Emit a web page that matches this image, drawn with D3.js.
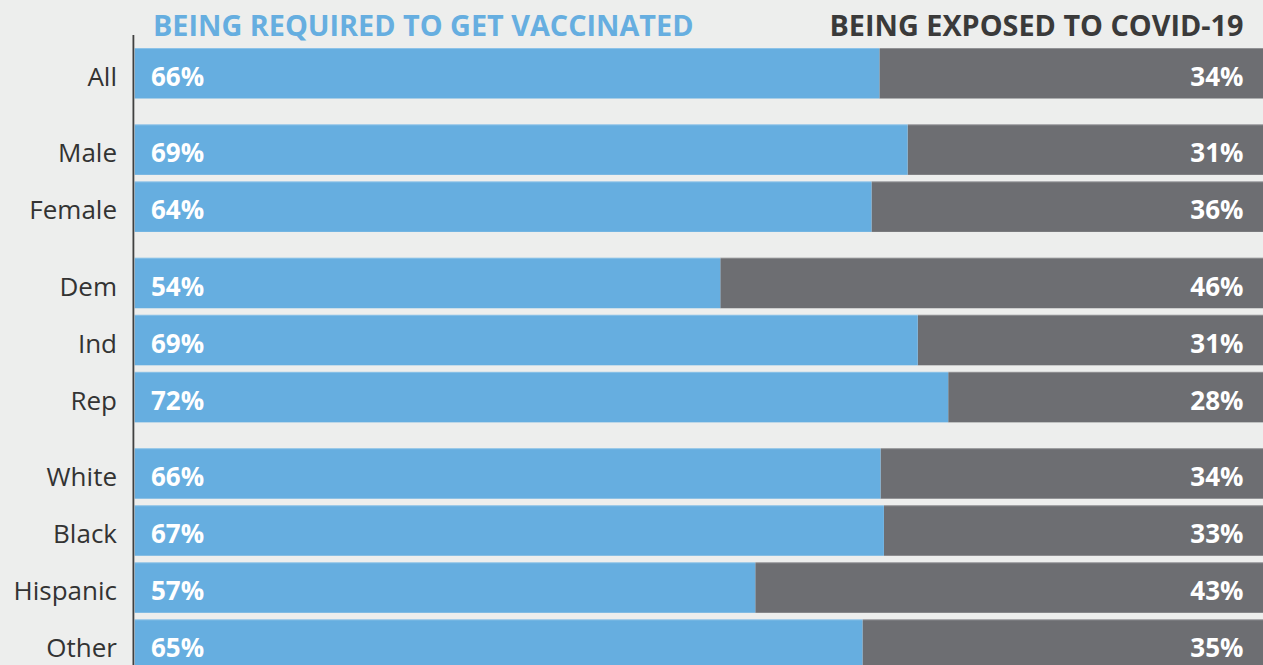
<!DOCTYPE html>
<html>
<head>
<meta charset="utf-8">
<script src="https://cdn.jsdelivr.net/npm/d3@7"></script>
<style>
  html, body { margin: 0; padding: 0; background: #edeeed; overflow: hidden; }
  svg { display: block; font-family: "Open Sans", sans-serif; }
</style>
</head>
<body>
<div id="chart"></div>
<script>
// 데이터
const categories = ['All', 'Male', 'Female', 'Dem', 'Ind', 'Rep', 'White', 'Black', 'Hispanic', 'Other'];
const groupIndex = [0, 1, 1, 2, 2, 2, 3, 3, 3, 3];
// 막대 길이
const vaccinatedBar = [66, 68.5, 65.3, 51.9, 69.4, 72.1, 66.1, 66.4, 55, 64.5];
// 표시 라벨
const vaccinatedLabel = [66, 69, 64, 54, 69, 72, 66, 67, 57, 65];
const exposedLabel = [34, 31, 36, 46, 31, 28, 34, 33, 43, 35];
const seriesTitles = ['BEING REQUIRED TO GET VACCINATED', 'BEING EXPOSED TO COVID-19'];

const WIDTH = 1263, HEIGHT = 665;
const LEFT = 134.7, RIGHT = 1263;
const ROW_STEP = 57.05, GROUP_GAP = 19.3, BAR_H = 50.5, TOP = 48;
const BLUE = '#66aee0', GREY = '#6d6e72';
const LABEL_DY = 38;

const svg = d3.select('#chart').append('svg')
  .attr('width', WIDTH).attr('height', HEIGHT);

svg.append('rect').attr('width', WIDTH).attr('height', HEIGHT).attr('fill', '#edeeed');

const x = d3.scaleLinear().domain([0, 100]).range([LEFT, RIGHT]);

// 행 위치: 그룹 간 여백 포함
const rows = categories.map((c, i) => ({
  name: c,
  pos: i * ROW_STEP + groupIndex[i] * GROUP_GAP,
  bar: vaccinatedBar[i],
  a: vaccinatedLabel[i],
  b: exposedLabel[i]
}));
const y = d3.scaleLinear().domain([0, 1]).range([TOP, TOP + 1]);

const g = svg.append('g');

const row = g.selectAll('.row')
  .data(rows)
  .join('g')
  .attr('class', 'row')
  .attr('transform', d => `translate(0, ${y(d.pos)})`);

// 회색 막대 (노출)
row.append('rect')
  .attr('x', d => x(d.bar))
  .attr('width', d => x(100) - x(d.bar))
  .attr('height', BAR_H)
  .attr('fill', GREY);

// 파란 막대 (백신)
row.append('rect')
  .attr('x', x(0))
  .attr('width', d => x(d.bar) - x(0))
  .attr('height', BAR_H)
  .attr('fill', BLUE);

// 막대 상단 밝은 테두리
row.append('line')
  .attr('x1', x(0)).attr('x2', x(100))
  .attr('y1', 0.5).attr('y2', 0.5)
  .attr('stroke', '#ffffff').attr('stroke-opacity', 0.25);

row.append('text')
  .attr('x', 151).attr('y', LABEL_DY)
  .attr('fill', '#fff').attr('font-size', 26).attr('font-weight', 700)
  .text(d => d.a + '%');

row.append('text')
  .attr('x', 1243.5).attr('y', LABEL_DY)
  .attr('text-anchor', 'end')
  .attr('fill', '#fff').attr('font-size', 26).attr('font-weight', 700)
  .text(d => d.b + '%');

row.append('text')
  .attr('x', 117).attr('y', LABEL_DY)
  .attr('text-anchor', 'end')
  .attr('fill', '#333').attr('font-size', 26)
  .text(d => d.name);

// 축 선
svg.append('line')
  .attr('x1', 133.4).attr('x2', 133.4)
  .attr('y1', 35).attr('y2', HEIGHT)
  .attr('stroke', '#404040').attr('stroke-width', 1.8);

// 헤더
svg.append('text')
  .attr('x', 153).attr('y', 36)
  .attr('fill', BLUE).attr('font-size', 28.8).attr('font-weight', 700)
  .text(seriesTitles[0]);

svg.append('text')
  .attr('x', 1243.5).attr('y', 36)
  .attr('text-anchor', 'end')
  .attr('fill', '#3a3a3a').attr('font-size', 28.8).attr('font-weight', 700)
  .text(seriesTitles[1]);
</script>
</body>
</html>
